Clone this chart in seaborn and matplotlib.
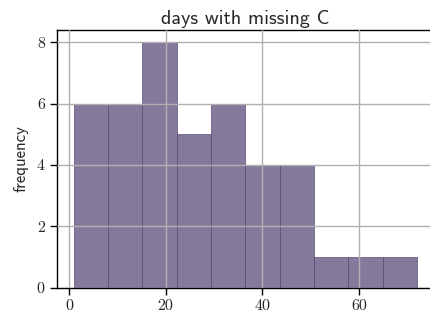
import numpy as np
import matplotlib
matplotlib.use('Agg')
import matplotlib.pyplot as plt
import seaborn as sns

# 히스토그램 값 (그림에서 읽은 구간 경계와 빈도)
bin_edges = [1.0, 8.1, 15.2, 22.3, 29.4, 36.5, 43.6, 50.7, 57.8, 64.9, 72.0]
counts = [6, 6, 8, 5, 6, 4, 4, 1, 1, 1]
x_ticks = [0, 20, 40, 60]
y_ticks = [0, 2, 4, 6, 8]

centers = [(a + b) / 2 for a, b in zip(bin_edges[:-1], bin_edges[1:])]

sns.set_style('white')
plt.rcParams['font.family'] = ['cmss10', 'DejaVu Sans']
plt.rcParams['axes.unicode_minus'] = False

fig = plt.figure(figsize=(4.3, 3.16), dpi=100)
ax = fig.add_axes([0.1316, 0.0896, 0.878, 0.8154])

sns.histplot(x=centers, weights=counts, bins=bin_edges, color='#5c4d7a',
             alpha=0.75, edgecolor='#5c4d7a', linewidth=0.5, ax=ax)

ax.set_xticks(x_ticks)
ax.set_yticks(y_ticks)
ax.grid(True, color='#b0b0b0', linewidth=1)
ax.set_axisbelow(False)
ax.margins(x=0.05, y=0.05)
ax.set_ylim(0, 8.4)

for side in ['left', 'bottom', 'top', 'right']:
    ax.spines[side].set_visible(True)
    ax.spines[side].set_color('black')
    ax.spines[side].set_linewidth(1)

ax.tick_params(axis='both', direction='out', length=5, width=1, color='black',
               labelsize=11.5, bottom=True, left=True)
for label in ax.get_xticklabels() + ax.get_yticklabels():
    label.set_fontfamily('cmr10')

ax.set_title('days with missing C', fontsize=14.5, fontfamily='cmss10', pad=4)
ax.set_ylabel('frequency', fontsize=12, fontfamily='cmss10', labelpad=6)
ax.set_xlabel('')

fig.savefig('out.png', dpi=100)
